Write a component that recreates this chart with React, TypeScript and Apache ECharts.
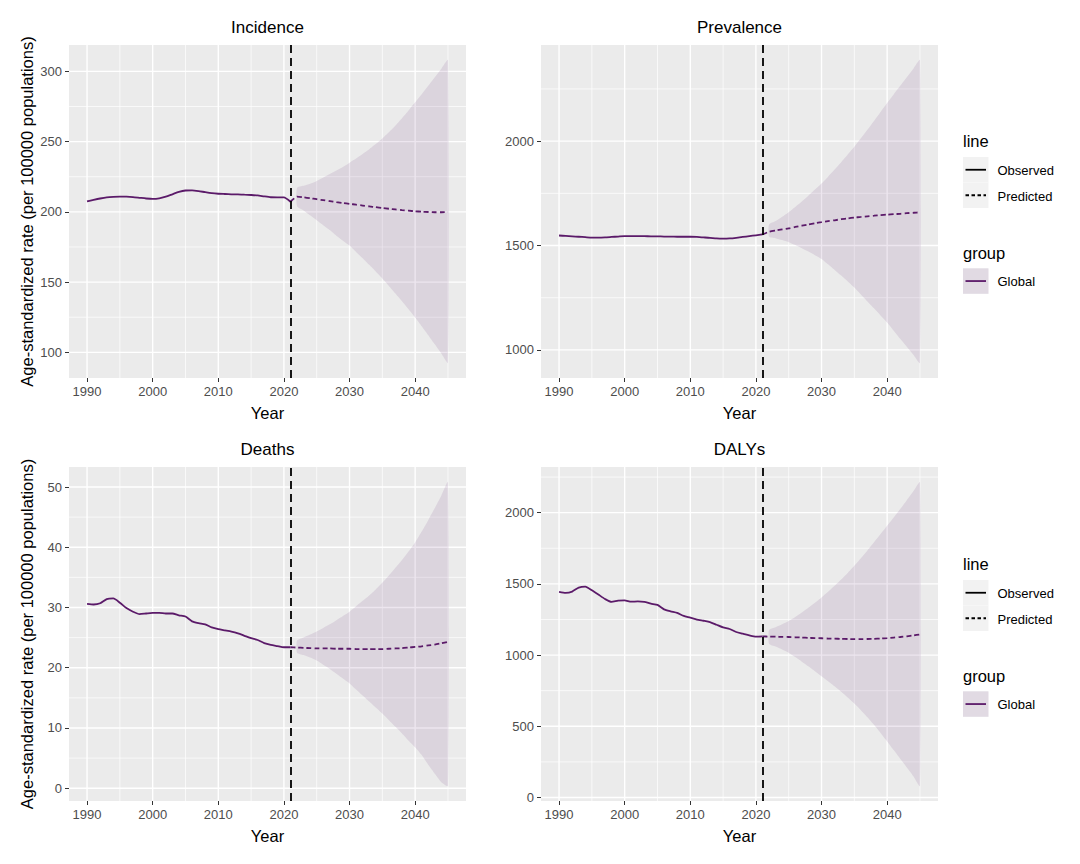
import React, { useEffect, useRef } from "react";
import * as echarts from "echarts";

const range = (a: number, b: number) => {
  const r: number[] = [];
  for (let y = a; y <= b; y++) r.push(y);
  return r;
};

// ---------- years ----------
const obsYears = range(1990, 2021);
const predYears = range(2021, 2045);
const bandYears = range(2022, 2045);

// ---------- axis breaks ----------
const xBreaks = [1990, 2000, 2010, 2020, 2030, 2040];
const xMinorBreaks = [1995, 2005, 2015, 2025, 2035, 2045];
const cutYear = 2021;

// ---------- Incidence ----------
const incObs = [207.4, 208.5, 209.5, 210.3, 210.7, 210.9, 210.8, 210.5, 210.0, 209.5, 209.2, 209.6, 210.8, 212.5, 214.2, 215.2, 215.3, 214.8, 214.0, 213.3, 212.9, 212.7, 212.5, 212.4, 212.2, 212.0, 211.7, 211.0, 210.4, 210.3, 210.3, 207.2];
const incPred = [207.2, 210.8, 210.3, 209.7, 209.0, 208.3, 207.6, 206.9, 206.3, 205.7, 205.1, 204.5, 203.9, 203.3, 202.7, 202.2, 201.7, 201.2, 200.8, 200.4, 200.1, 199.9, 199.7, 199.7, 199.8];
const incUpper = [217, 218.5, 220, 222, 224.5, 227, 229.5, 232, 235, 238, 241.2, 244.6, 248.3, 252.3, 256.7, 261.5, 266.7, 272.2, 278, 283.8, 289.8, 295.8, 301.9, 308];
const incLower = [204, 201, 197.5, 194, 190.5, 187, 183, 179.5, 176, 171.5, 167, 162.3, 157.5, 152.5, 147.2, 141.8, 136.3, 130.6, 124.8, 118.6, 112.2, 105.7, 99.1, 92.5];
const incBreaks = [100, 150, 200, 250, 300];
const incMinor = [125, 175, 225, 275];

// ---------- Prevalence ----------
const prevObs = [1548, 1546, 1544, 1542, 1540, 1538, 1538, 1539, 1541, 1543, 1545, 1545, 1545, 1545, 1544, 1544, 1543, 1543, 1542, 1542, 1542, 1541, 1539, 1537, 1534, 1533, 1534, 1537, 1541, 1545, 1549, 1553];
const prevPred = [1553, 1566, 1572, 1577, 1582, 1589, 1595, 1601, 1607, 1612, 1617, 1621, 1626, 1630, 1634, 1637, 1640, 1643, 1646, 1648, 1650, 1652, 1655, 1657, 1659];
const prevUpper = [1600, 1617, 1638, 1660, 1685, 1711, 1739, 1768, 1797, 1830, 1864, 1899, 1936, 1973, 2014, 2055, 2097, 2140, 2183, 2224, 2265, 2306, 2347, 2388];
const prevLower = [1542, 1535, 1526, 1516, 1502, 1487, 1471, 1454, 1436, 1410, 1383, 1356, 1328, 1299, 1266, 1232, 1199, 1165, 1131, 1092, 1053, 1015, 977, 938];
const prevBreaks = [1000, 1500, 2000];
const prevMinor = [1250, 1750, 2250];

// ---------- Deaths ----------
const deathObs = [30.6, 30.5, 30.7, 31.4, 31.5, 30.8, 29.9, 29.3, 28.9, 29.0, 29.1, 29.1, 29.0, 29.0, 28.7, 28.5, 27.7, 27.4, 27.2, 26.7, 26.4, 26.2, 26.0, 25.7, 25.3, 24.9, 24.6, 24.1, 23.8, 23.6, 23.4, 23.4];
const deathPred = [23.4, 23.35, 23.3, 23.25, 23.2, 23.2, 23.2, 23.15, 23.15, 23.15, 23.1, 23.1, 23.1, 23.1, 23.1, 23.15, 23.2, 23.25, 23.35, 23.45, 23.55, 23.7, 23.85, 24.05, 24.3];
const deathUpper = [24.5, 25.0, 25.5, 26.0, 26.6, 27.2, 27.9, 28.6, 29.3, 30.2, 31.1, 32.0, 33.0, 34.1, 35.3, 36.6, 37.9, 39.3, 40.8, 42.6, 44.5, 46.5, 48.6, 50.8];
const deathLower = [22.5, 22.1, 21.7, 21.2, 20.5, 19.8, 19.0, 18.2, 17.4, 16.4, 15.4, 14.4, 13.4, 12.4, 11.3, 10.2, 9.1, 7.9, 6.8, 5.5, 3.9, 2.4, 1.0, 0.4];
const deathBreaks = [0, 10, 20, 30, 40, 50];
const deathMinor = [5, 15, 25, 35, 45];

// ---------- DALYs ----------
const dalyObs = [1444, 1437, 1446, 1474, 1481, 1455, 1425, 1394, 1373, 1382, 1384, 1375, 1377, 1374, 1361, 1352, 1321, 1307, 1296, 1275, 1263, 1249, 1241, 1232, 1213, 1194, 1183, 1162, 1150, 1138, 1129, 1131];
const dalyPred = [1131, 1130, 1129, 1128, 1127, 1125, 1123, 1121, 1119, 1118, 1116, 1115, 1114, 1113, 1112, 1112, 1113, 1114, 1116, 1119, 1123, 1127, 1132, 1138, 1145];
const dalyUpper = [1175, 1195, 1216, 1239, 1268, 1299, 1332, 1367, 1404, 1444, 1486, 1530, 1577, 1627, 1680, 1735, 1792, 1850, 1908, 1966, 2026, 2088, 2150, 2214];
const dalyLower = [1080, 1060, 1040, 1017, 986, 954, 921, 887, 852, 817, 781, 743, 703, 660, 613, 563, 510, 453, 394, 333, 272, 211, 150, 82];
const dalyBreaks = [0, 500, 1000, 1500, 2000];
const dalyMinor = [250, 750, 1250, 1750, 2250];

// ---------- text ----------
const panelTitles = ["Incidence", "Prevalence", "Deaths", "DALYs"];
const xTitle = "Year";
const yTitle = "Age-standardized rate (per 100000 populations)";
const lineLegendTitle = "line";
const lineLegendItems = ["Observed", "Predicted"];
const groupLegendTitle = "group";
const groupLegendItems = ["Global"];

const FONT = '"Liberation Sans", Arial, Helvetica, sans-serif';
const LINE_COLOR = "#5B1A69";
const BAND_OPACITY = 0.11;
const PANEL_BG = "#EBEBEB";
const TICK_TEXT = "#4D4D4D";

const panels = [
  { title: panelTitles[0], obs: incObs, pred: incPred, up: incUpper, lo: incLower, breaks: incBreaks, minor: incMinor, left: 69, top: 45, height: 333 },
  { title: panelTitles[1], obs: prevObs, pred: prevPred, up: prevUpper, lo: prevLower, breaks: prevBreaks, minor: prevMinor, left: 541, top: 45, height: 333 },
  { title: panelTitles[2], obs: deathObs, pred: deathPred, up: deathUpper, lo: deathLower, breaks: deathBreaks, minor: deathMinor, left: 69, top: 467, height: 334 },
  { title: panelTitles[3], obs: dalyObs, pred: dalyPred, up: dalyUpper, lo: dalyLower, breaks: dalyBreaks, minor: dalyMinor, left: 541, top: 467, height: 334 },
];
const PANEL_W = 397;

// ggplot-like 5% expansion
const expand = (lo: number, hi: number) => {
  const r = hi - lo;
  return [lo - 0.05 * r, hi + 0.05 * r];
};
const [xMin, xMax] = expand(1990, 2045);
const plainFmt = (v: number) => String(v);

function buildOption() {
  const grid: any[] = [];
  const xAxis: any[] = [];
  const yAxis: any[] = [];
  const series: any[] = [];
  const graphic: any[] = [];

  panels.forEach((p, i) => {
    const all = [...p.obs, ...p.pred, ...p.up, ...p.lo];
    const [yMin, yMax] = expand(Math.min(...all), Math.max(...all));
    grid.push({
      left: p.left, top: p.top, width: PANEL_W, height: p.height,
      show: true, backgroundColor: PANEL_BG, borderWidth: 0,
    });
    xAxis.push({
      type: "value", gridIndex: i, min: xMin, max: xMax, position: "bottom",
      axisLine: { show: false, onZero: false },
      splitLine: { show: false },
      axisTick: { show: true, length: 4, lineStyle: { color: "#333333", width: 1 }, customValues: xBreaks },
      axisLabel: { show: true, customValues: xBreaks, formatter: plainFmt, color: TICK_TEXT, fontSize: 13, fontFamily: FONT, margin: 7, showMinLabel: true, showMaxLabel: true, hideOverlap: false },
    });
    yAxis.push({
      type: "value", gridIndex: i, min: yMin, max: yMax, position: "left",
      axisLine: { show: false, onZero: false },
      splitLine: { show: false },
      axisTick: { show: true, length: 4, lineStyle: { color: "#333333", width: 1 }, customValues: p.breaks },
      axisLabel: { show: false },
    });

    // vertical grid lines
    series.push({
      type: "custom", xAxisIndex: i, yAxisIndex: i, z: 1, silent: true,
      data: [...xBreaks.map((v) => [v, yMin, 1]), ...xMinorBreaks.map((v) => [v, yMin, 0])],
      renderItem: (params: any, api: any) => {
        const cs = params.coordSys;
        const x = api.coord([api.value(0), yMin])[0];
        const major = api.value(2) === 1;
        return {
          type: "line",
          shape: { x1: x, y1: cs.y, x2: x, y2: cs.y + cs.height },
          style: { stroke: "#FFFFFF", lineWidth: major ? 1.4 : 0.7 },
        };
      },
    });
    // horizontal grid lines
    series.push({
      type: "custom", xAxisIndex: i, yAxisIndex: i, z: 1, silent: true,
      data: [...p.breaks.map((v) => [xMin, v, 1]), ...p.minor.map((v) => [xMin, v, 0])],
      renderItem: (params: any, api: any) => {
        const cs = params.coordSys;
        const y = api.coord([xMin, api.value(1)])[1];
        const major = api.value(2) === 1;
        return {
          type: "line",
          shape: { x1: cs.x, y1: y, x2: cs.x + cs.width, y2: y },
          style: { stroke: "#FFFFFF", lineWidth: major ? 1.4 : 0.7 },
        };
      },
    });
    // y tick labels (placed through the y scale)
    series.push({
      type: "custom", xAxisIndex: i, yAxisIndex: i, z: 3, silent: true,
      data: p.breaks.map((v) => [xMin, v]),
      renderItem: (params: any, api: any) => {
        const cs = params.coordSys;
        const v = api.value(1);
        const y = api.coord([xMin, v])[1];
        return {
          type: "text",
          x: cs.x - 7, y,
          style: { text: plainFmt(v), font: `13px ${FONT}`, fill: TICK_TEXT, textAlign: "right", textVerticalAlign: "middle" },
        };
      },
    });

    // uncertainty band: one polygon through lower and upper bounds
    series.push({
      type: "custom", xAxisIndex: i, yAxisIndex: i, z: 2, silent: true,
      encode: { x: 0, y: [1, 2] },
      data: bandYears.map((y, k) => [y, p.lo[k], p.up[k]]),
      renderItem: (params: any, api: any) => {
        if (params.dataIndexInside !== 0) return null;
        const n = params.dataInsideLength;
        const lower: number[][] = [];
        const upper: number[][] = [];
        for (let k = 0; k < n; k++) {
          const x = api.value(0, k);
          lower.push(api.coord([x, api.value(1, k)]));
          upper.push(api.coord([x, api.value(2, k)]));
        }
        return {
          type: "polygon",
          shape: { points: [...lower, ...upper.reverse()], smooth: 0.2 },
          style: { fill: LINE_COLOR, opacity: BAND_OPACITY },
        };
      },
    });

    // observed
    series.push({
      type: "line", xAxisIndex: i, yAxisIndex: i, z: 3, silent: true,
      showSymbol: false, symbol: "none", smooth: 0.2,
      lineStyle: { color: LINE_COLOR, width: 1.8, type: "solid" },
      data: obsYears.map((y, k) => [y, p.obs[k]]),
    });
    // predicted + cut line
    series.push({
      type: "line", xAxisIndex: i, yAxisIndex: i, z: 3, silent: true,
      showSymbol: false, symbol: "none", smooth: 0.2,
      lineStyle: { color: LINE_COLOR, width: 1.8, type: [5, 3] },
      data: predYears.map((y, k) => [y, p.pred[k]]),
      markLine: {
        silent: true, symbol: "none", z: 6,
        label: { show: false },
        lineStyle: { color: "#000000", width: 1.8, type: [8, 5] },
        data: [{ xAxis: cutYear }],
      },
    });

    const cx = p.left + PANEL_W / 2;
    graphic.push({
      type: "text", x: cx, y: p.top - 18,
      style: { text: p.title, font: `17px ${FONT}`, fill: "#000000", textAlign: "center", textVerticalAlign: "middle" },
    });
    graphic.push({
      type: "text", x: cx, y: p.top + p.height + 35,
      style: { text: xTitle, font: `16.5px ${FONT}`, fill: "#000000", textAlign: "center", textVerticalAlign: "middle" },
    });
    if (p.left < 100) {
      graphic.push({
        type: "text", x: 27, y: p.top + p.height / 2, rotation: Math.PI / 2,
        style: { text: yTitle, font: `16.5px ${FONT}`, fill: "#000000", textAlign: "center", textVerticalAlign: "middle" },
      });
    }
  });

  // legends (one per row)
  [0, 423].forEach((dy) => {
    const lx = 963;
    graphic.push({ type: "text", x: lx, y: 141 + dy, style: { text: lineLegendTitle, font: `16.5px ${FONT}`, fill: "#000", textAlign: "left", textVerticalAlign: "middle" } });
    lineLegendItems.forEach((name, k) => {
      const top = 157 + dy + k * 25.5;
      graphic.push({ type: "rect", shape: { x: lx, y: top, width: 25.5, height: 25.5 }, style: { fill: "#F2F2F2" } });
      graphic.push({
        type: "line", shape: { x1: lx + 2.5, y1: top + 12.75, x2: lx + 23, y2: top + 12.75 },
        style: { stroke: "#000000", lineWidth: 1.8, lineDash: k === 0 ? null : [3.5, 2.5] },
      });
      graphic.push({ type: "text", x: lx + 34.5, y: top + 13.5, style: { text: name, font: `13px ${FONT}`, fill: "#000", textAlign: "left", textVerticalAlign: "middle" } });
    });
    graphic.push({ type: "text", x: lx, y: 252.5 + dy, style: { text: groupLegendTitle, font: `16.5px ${FONT}`, fill: "#000", textAlign: "left", textVerticalAlign: "middle" } });
    groupLegendItems.forEach((name, k) => {
      const top = 268.3 + dy + k * 25.5;
      graphic.push({ type: "rect", shape: { x: lx, y: top, width: 25.5, height: 25.5 }, style: { fill: "#F2F2F2" } });
      graphic.push({ type: "rect", shape: { x: lx, y: top, width: 25.5, height: 25.5 }, style: { fill: LINE_COLOR, opacity: BAND_OPACITY } });
      graphic.push({ type: "line", shape: { x1: lx + 2.5, y1: top + 12.75, x2: lx + 23, y2: top + 12.75 }, style: { stroke: LINE_COLOR, lineWidth: 1.8 } });
      graphic.push({ type: "text", x: lx + 34.5, y: top + 13.5, style: { text: name, font: `13px ${FONT}`, fill: "#000", textAlign: "left", textVerticalAlign: "middle" } });
    });
  });

  return {
    animation: false,
    backgroundColor: "#FFFFFF",
    textStyle: { fontFamily: FONT },
    grid, xAxis, yAxis, series, graphic,
  };
}

export default function App() {
  const ref = useRef<HTMLDivElement>(null);
  useEffect(() => {
    if (!ref.current) return;
    const chart = echarts.init(ref.current, null, { renderer: "svg" });
    chart.setOption(buildOption() as any);
    return () => chart.dispose();
  }, []);
  return (
    <div
      ref={ref}
      style={{ position: "fixed", left: 0, top: 0, width: 1080, height: 864, background: "#fff" }}
    />
  );
}
